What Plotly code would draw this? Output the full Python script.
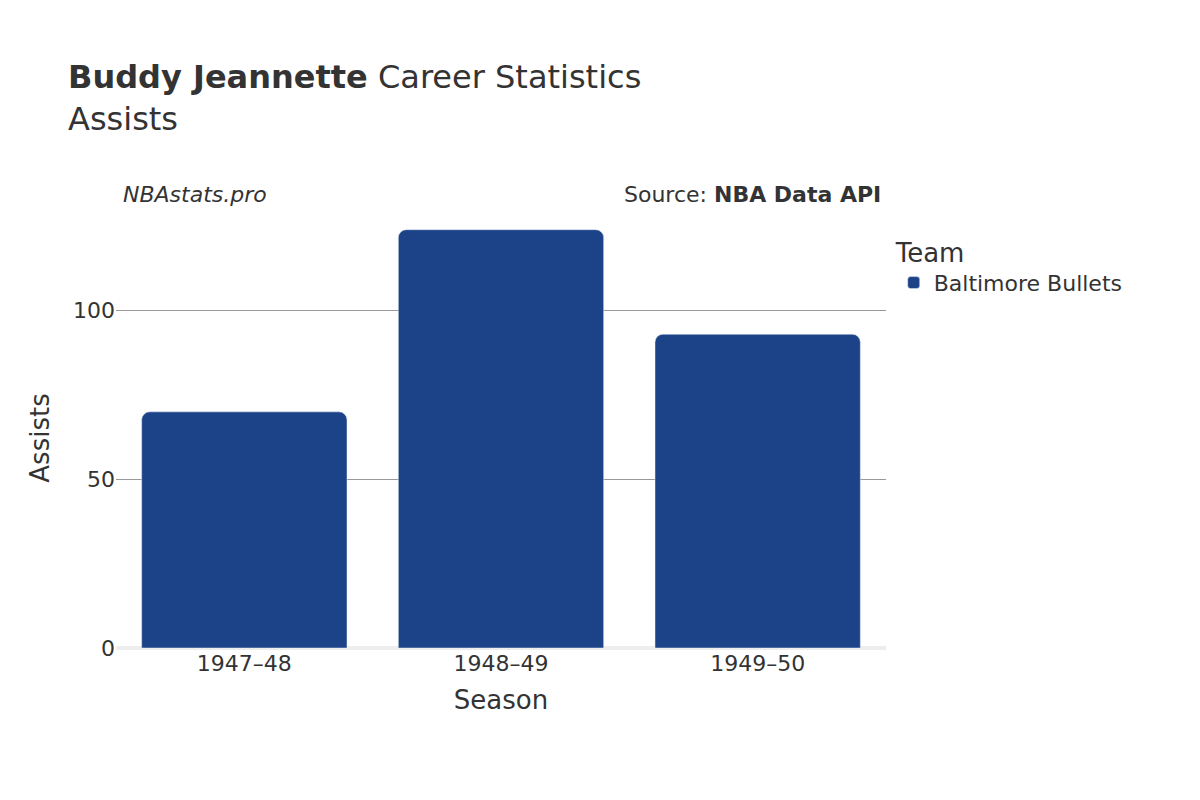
import plotly.graph_objects as go

# -----------------------------
# Data
# -----------------------------
seasons = ["1947–48", "1948–49", "1949–50"]
assists = [70, 124, 93]
team = "Baltimore Bullets"

fig = go.Figure()
fig.add_trace(go.Bar(
    x=seasons,
    y=assists,
    name=team,
    marker_color="#1c4387",
    showlegend=True,
))

fig.update_layout(
    width=1200, height=800,
    font=dict(family="DejaVu Sans", color="#333333", size=20),
    plot_bgcolor="white", paper_bgcolor="white",
    title=dict(
        text="<b>Buddy Jeannette</b> Career Statistics<br>Assists",
        x=0.05, xanchor="left", y=0.9, yanchor="top",
        font=dict(size=32),
    ),
    margin=dict(l=108, r=322, t=220, b=160),
    barcornerradius=8,
    bargap=0.2,
    legend=dict(
        title=dict(text="Team", font=dict(size=26)),
        x=1.01, y=1.0, xanchor="left", yanchor="top",
        font=dict(size=22),
    ),
    xaxis=dict(title=dict(text="Season", font=dict(size=26)), showgrid=False,
               ticks="", tickfont=dict(size=22)),
    yaxis=dict(title=dict(text="Assists", font=dict(size=26)), gridcolor="#999999",
               zeroline=True, zerolinecolor="#eeeeee", zerolinewidth=4,
               tickvals=[0, 50, 100], tickfont=dict(size=22), range=[0, 124.5]),
    annotations=[
        dict(text="<i>NBAstats.pro</i>", xref="paper", yref="paper", x=0.007, y=1.08,
             xanchor="left", yanchor="middle", showarrow=False, font=dict(size=22)),
        dict(text="Source: <b>NBA Data API</b>", xref="paper", yref="paper", x=0.996, y=1.08,
             xanchor="right", yanchor="middle", showarrow=False, font=dict(size=22)),
    ],
)

fig.write_html("out.html")
